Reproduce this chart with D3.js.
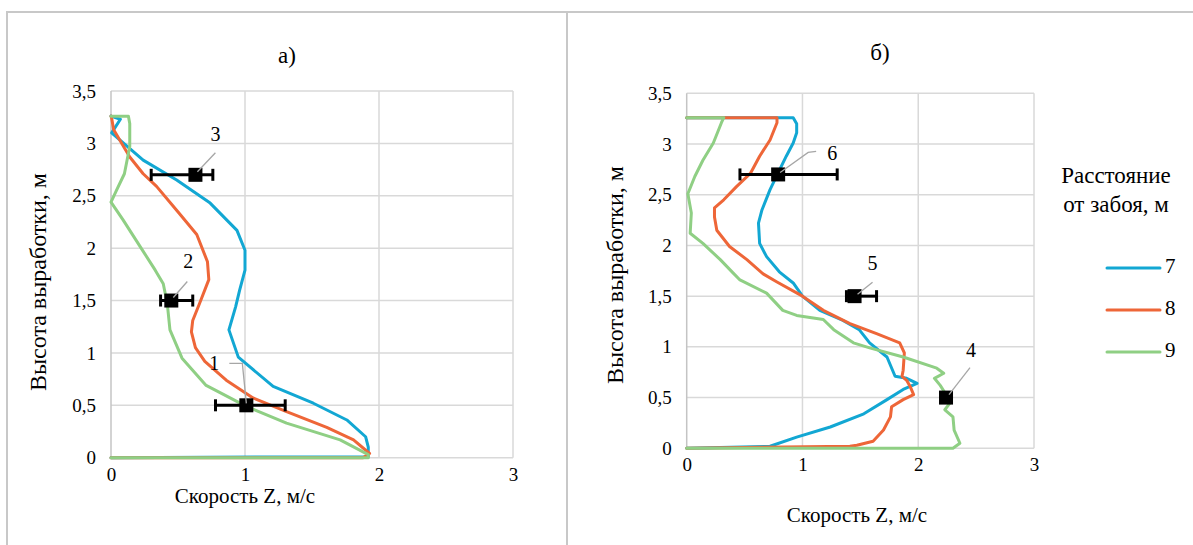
<!DOCTYPE html>
<html><head><meta charset="utf-8">
<script src="https://cdn.jsdelivr.net/npm/d3@7/dist/d3.min.js"></script>
<style>body{margin:0;background:#fff}svg{display:block}text{font-family:"Liberation Serif","Times New Roman",serif;fill:#000}</style>
</head><body>
<svg id="chart" width="1193" height="545"></svg>
<script>
// ---------- DATA ----------
const yTicks = [0, 0.5, 1, 1.5, 2, 2.5, 3, 3.5];
const xTicks = [0, 1, 2, 3];
const seriesNames = ["7", "8", "9"];
const seriesColors = ["#12a7d3", "#ee6638", "#8fcf84"];

// Panel а) : [speed Z, height]
const a7 = [[0,0],[1.92,0.01],[1.92,0.10],[1.90,0.20],[1.76,0.36],[1.51,0.52],[1.21,0.68],[0.95,0.96],[0.88,1.22],[0.93,1.44],[0.96,1.60],[1.0,1.79],[1.0,1.98],[0.94,2.17],[0.74,2.43],[0.49,2.65],[0.24,2.84],[0.005,3.10],[0.07,3.23],[0,3.26]];
const a8 = [[0,0],[1.88,0.0],[1.93,0.04],[1.81,0.17],[1.61,0.29],[1.31,0.44],[1.06,0.57],[0.86,0.74],[0.70,0.92],[0.63,1.05],[0.60,1.20],[0.61,1.31],[0.66,1.47],[0.73,1.70],[0.72,1.87],[0.64,2.13],[0.51,2.33],[0.34,2.59],[0.24,2.71],[0.14,2.87],[0.02,3.13],[0.005,3.24],[0,3.26]];
const a9 = [[0,0],[1.92,0.0],[1.92,0.03],[1.71,0.17],[1.31,0.33],[1.01,0.49],[0.71,0.69],[0.53,0.95],[0.44,1.22],[0.42,1.47],[0.39,1.66],[0.33,1.79],[0.22,2.01],[0.09,2.27],[0.0,2.44],[0.04,2.55],[0.10,2.71],[0.14,2.97],[0.14,3.19],[0.13,3.26],[0,3.26]];

// Panel б)
const b7 = [[0,0],[0.72,0.02],[0.95,0.11],[1.24,0.21],[1.53,0.34],[1.73,0.48],[1.87,0.58],[1.99,0.64],[1.90,0.69],[1.80,0.71],[1.73,0.90],[1.58,1.04],[1.49,1.17],[1.35,1.26],[1.15,1.36],[1.0,1.50],[0.92,1.63],[0.80,1.74],[0.69,1.89],[0.63,2.02],[0.62,2.22],[0.65,2.35],[0.72,2.55],[0.80,2.74],[0.86,2.88],[0.92,3.01],[0.95,3.11],[0.95,3.20],[0.92,3.26],[0,3.26]];
const b8 = [[0,0],[1.41,0.02],[1.47,0.03],[1.61,0.07],[1.70,0.18],[1.76,0.31],[1.77,0.41],[1.87,0.48],[1.96,0.53],[1.93,0.61],[1.90,0.67],[1.86,0.71],[1.87,0.77],[1.88,0.94],[1.84,1.04],[1.64,1.13],[1.41,1.23],[1.18,1.36],[1.0,1.50],[0.78,1.64],[0.66,1.72],[0.52,1.86],[0.37,1.99],[0.26,2.15],[0.24,2.28],[0.24,2.37],[0.32,2.45],[0.43,2.58],[0.55,2.71],[0.63,2.88],[0.72,3.04],[0.78,3.21],[0.78,3.26],[0,3.26]];
const b9 = [[0,0],[2.30,0.0],[2.36,0.05],[2.31,0.18],[2.30,0.31],[2.23,0.38],[2.27,0.44],[2.24,0.53],[2.19,0.62],[2.14,0.69],[2.22,0.74],[2.16,0.79],[1.87,0.90],[1.58,0.99],[1.44,1.04],[1.27,1.17],[1.18,1.27],[0.95,1.31],[0.83,1.36],[0.69,1.53],[0.46,1.66],[0.40,1.73],[0.29,1.86],[0.14,2.02],[0.03,2.12],[0.04,2.32],[0.01,2.51],[0.07,2.68],[0.14,2.84],[0.23,3.01],[0.30,3.21],[0.32,3.26],[0,3.26]];

// Measured points with error bars: [x, y, low, high, label]
const aPoints = [[1.01,0.5,0.78,1.30,"1"],[0.45,1.5,0.37,0.61,"2"],[0.63,2.7,0.30,0.76,"3"]];
const bPoints = [[2.24,0.5,2.22,2.26,"4"],[1.45,1.5,1.38,1.64,"5"],[0.79,2.7,0.46,1.30,"6"]];

const titles = ["а)", "б)"];
const xTitle = "Скорость Z, м/с";
const yTitle = "Высота выработки, м";
const legendTitle = ["Расстояние", "от забоя, м"];

// ---------- LAYOUT ----------
const svg = d3.select("#chart");
svg.append("rect").attr("width",1193).attr("height",545).attr("fill","#fff");
svg.append("rect").attr("x",7).attr("y",12).attr("width",560).attr("height",560).attr("fill","none").attr("stroke","#c8c8c8").attr("stroke-width",2);
svg.append("rect").attr("x",567).attr("y",12).attr("width",640).attr("height",560).attr("fill","none").attr("stroke","#c8c8c8").attr("stroke-width",2);

// leader offsets (px) relative to marker
const leadA = {
  "1": {lab:[-32,-40], line:[[0,-2],[-4,-42],[-17,-42]]},
  "2": {lab:[17,-37], line:[[2,-3],[16,-19]]},
  "3": {lab:[20,-38], line:[[2,-3],[20,-22]]}
};
const leadB = {
  "4": {lab:[25,-45], line:[[3,-3],[24,-30]]},
  "5": {lab:[18,-31], line:[[3,-2],[18,-14]]},
  "6": {lab:[54,-19], line:[[2,-2],[30,-22],[38,-23]]}
};

const panels = [
  {title:titles[0], tx:287, ty:63, xr:[111,513], yr:[457.7,91], data:[a7,a8,a9], pts:aPoints, lead:leadA, xLabY:477, xTitleY:503, yTitleX:40, yTitleY:282, xTitleX:245},
  {title:titles[1], tx:880, ty:60, xr:[686.7,1034], yr:[448.3,93.3], data:[b7,b8,b9], pts:bPoints, lead:leadB, xLabY:467, xTitleY:522, yTitleX:617, yTitleY:275, xTitleX:857}
];

const fmt = d => String(d).replace(".", ",");

panels.forEach(p => {
  const x = d3.scaleLinear().domain([0,3]).range(p.xr);
  const y = d3.scaleLinear().domain([0,3.5]).range(p.yr);
  const g = svg.append("g");
  // grid
  g.selectAll(".hg").data(yTicks).join("line")
    .attr("x1",x(0)).attr("x2",x(3)).attr("y1",d=>y(d)).attr("y2",d=>y(d))
    .attr("stroke","#d9d9d9").attr("stroke-width",1.5);
  g.selectAll(".vg").data(xTicks).join("line")
    .attr("y1",y(0)).attr("y2",y(3.5)).attr("x1",d=>x(d)).attr("x2",d=>x(d))
    .attr("stroke",d=>d===0?"#c4c4c4":"#d9d9d9").attr("stroke-width",1.5);
  // axes
  const ya = d3.axisLeft(y).tickValues(yTicks).tickFormat(fmt).tickSize(0).tickPadding(15);
  const ag = g.append("g").attr("transform",`translate(${x(0)},0)`).call(ya);
  ag.select(".domain").remove();
  ag.selectAll("text").attr("font-size",19);
  const xa = d3.axisBottom(x).tickValues(xTicks).tickFormat(fmt).tickSize(0).tickPadding(0);
  const xg = g.append("g").attr("transform",`translate(0,${p.xLabY})`).call(xa);
  xg.select(".domain").remove();
  xg.selectAll("text").attr("font-size",19).attr("dy","0").attr("y",0).attr("dominant-baseline","middle");
  // titles
  g.append("text").attr("x",p.tx).attr("y",p.ty).attr("text-anchor","middle").attr("font-size",23).text(p.title);
  g.append("text").attr("x",p.xTitleX).attr("y",p.xTitleY).attr("text-anchor","middle").attr("font-size",21).text(xTitle);
  g.append("text").attr("transform",`translate(${p.yTitleX},${p.yTitleY}) rotate(-90)`).attr("text-anchor","middle").attr("dominant-baseline","middle").attr("font-size",24).text(yTitle);
  // series
  const line = d3.line().x(d=>x(d[0])).y(d=>y(d[1]));
  p.data.forEach((s,i)=>{
    g.append("path").attr("d",line(s)).attr("fill","none").attr("stroke",seriesColors[i]).attr("stroke-width",3).attr("stroke-linejoin","round").attr("stroke-linecap","round");
  });
  // error bars + markers
  p.pts.forEach(pt=>{
    const [vx,vy,lo,hi,lab] = pt;
    const cx = x(vx), cy = y(vy);
    g.append("line").attr("x1",x(lo)).attr("x2",x(hi)).attr("y1",cy).attr("y2",cy).attr("stroke","#000").attr("stroke-width",3);
    [lo,hi].forEach(v=>g.append("line").attr("x1",x(v)).attr("x2",x(v)).attr("y1",cy-6).attr("y2",cy+6).attr("stroke","#000").attr("stroke-width",3));
    g.append("rect").attr("x",cx-7).attr("y",cy-7).attr("width",14).attr("height",14).attr("fill","#000");
    const L = p.lead[lab];
    g.append("polyline").attr("points",L.line.map(o=>`${cx+o[0]},${cy+o[1]}`).join(" ")).attr("fill","none").attr("stroke","#a6a6a6").attr("stroke-width",1.3);
    g.append("text").attr("x",cx+L.lab[0]).attr("y",cy+L.lab[1]).attr("text-anchor","middle").attr("dominant-baseline","middle").attr("font-size",20).text(lab);
  });
});

// legend
const lg = svg.append("g");
legendTitle.forEach((t,i)=>lg.append("text").attr("x",1116).attr("y",178+i*29).attr("text-anchor","middle").attr("dominant-baseline","middle").attr("font-size",23).text(t));
seriesNames.forEach((n,i)=>{
  const yy = 268 + i*42;
  lg.append("line").attr("x1",1107).attr("x2",1160).attr("y1",yy).attr("y2",yy).attr("stroke",seriesColors[i]).attr("stroke-width",3).attr("stroke-linecap","round");
  lg.append("text").attr("x",1165).attr("y",yy).attr("dominant-baseline","middle").attr("font-size",21).text(n);
});
</script>
</body></html>
